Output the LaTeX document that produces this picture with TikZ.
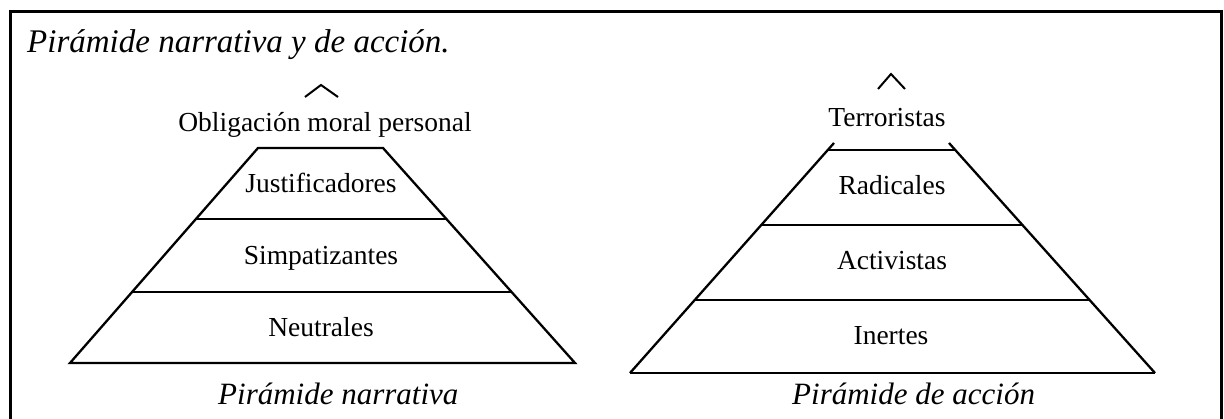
\documentclass[tikz,border=0pt]{standalone}
\usepackage{fontspec}
\setmainfont{Liberation Serif}
\begin{document}
\begin{tikzpicture}[x=1pt,y=-1pt,
  lbl/.style={font=\fontsize{27.5}{30}\selectfont, anchor=base, inner sep=0pt},
  capt/.style={font=\fontsize{31}{34}\selectfont\itshape, anchor=base west, inner sep=0pt},
  ttl/.style={font=\fontsize{33}{36}\selectfont\itshape, anchor=base west, inner sep=0pt},
  edge/.style={line width=2.3pt, line join=miter},
  caretline/.style={line width=2pt},
  frameline/.style={line width=3pt}]
\useasboundingbox (0,0) rectangle (1224,419);
\fill[white] (0,0) rectangle (1224,419);
\draw[frameline] (10,430) -- (10,12) -- (1221,12) -- (1221,430);

\node[ttl] (title) at (27,53) {Pirámide narrativa y de acción.};

% left pyramid
\draw[edge] (70,363) -- (258,148) -- (383,148) -- (575,363) -- cycle;
\draw[edge] (196,219) -- (446,219);
\draw[edge] (132,292) -- (511,292);
\draw[caretline] (305,97) -- (321,85) -- (338,97);

\node[lbl] (oblig) at (325,132) {Obligación moral personal};
\node[lbl] (just) at (321,193) {Justificadores};
\node[lbl] (simp) at (321,265) {Simpatizantes};
\node[lbl] (neut) at (321,337) {Neutrales};
\node[capt] (capL) at (218,405) {Pirámide narrativa};

% right pyramid
\draw[edge] (630,373) -- (834,143);
\draw[edge] (1155,373) -- (949,143);
\draw[edge] (630,373) -- (1155,373);
\draw[edge] (828,150) -- (955,150);
\draw[edge] (761,225) -- (1022,225);
\draw[edge] (695,300) -- (1090,300);
\draw[caretline] (878,89) -- (891,74) -- (905,89);

\node[lbl] (terr) at (887,127) {Terroristas};
\node[lbl] (rad) at (892,195) {Radicales};
\node[lbl] (act) at (892,270) {Activistas};
\node[lbl] (inert) at (891,345) {Inertes};
\node[capt] (capR) at (792,405) {Pirámide de acción};
\end{tikzpicture}
\end{document}
